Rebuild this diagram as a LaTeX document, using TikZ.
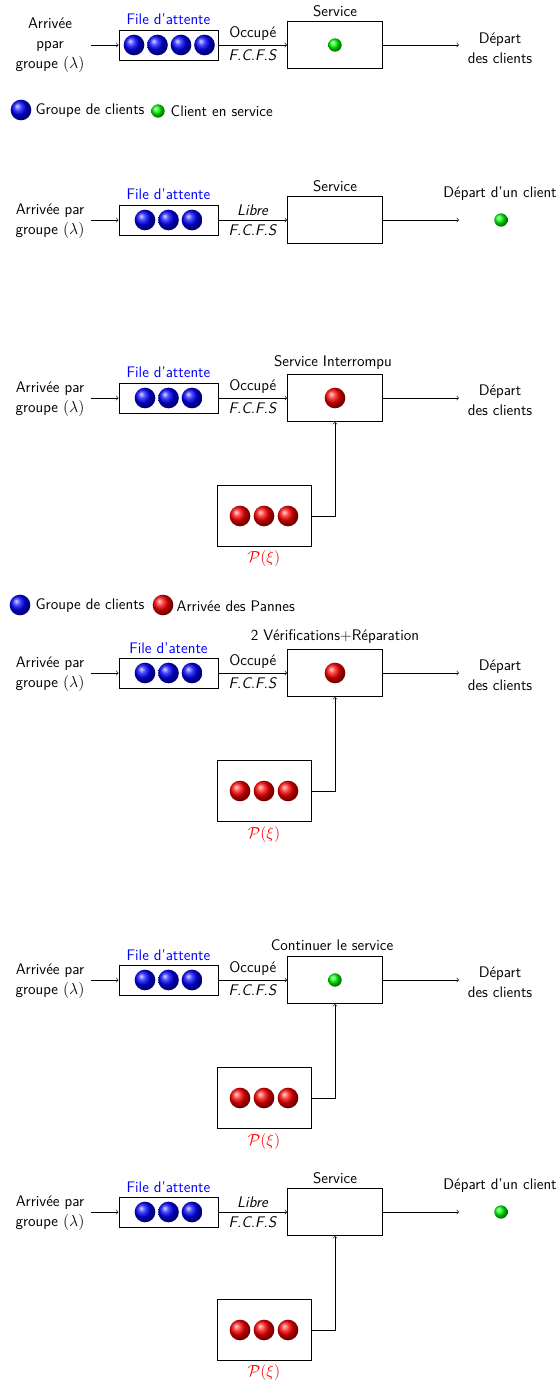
\documentclass[tikz,border=0pt]{standalone}

\begin{document}
\begin{tikzpicture}[x=0.75pt, y=-0.75pt,
  every node/.style={font=\sffamily\fontsize{11.5}{15}\selectfont},
  boite/.style={draw, semithick, inner sep=0pt},
  file/.style={boite, minimum width=74.25pt, minimum height=22.5pt},
  serveur/.style={boite, minimum width=71.25pt, minimum height=35.25pt},
  reserve/.style={boite, minimum width=70.5pt, minimum height=45.75pt},
  client/.style={circle, inner sep=0pt, minimum size=15.5pt, ball color=blue},
  panne/.style={circle, inner sep=0pt, minimum size=15.5pt, ball color=red},
  enservice/.style={circle, inner sep=0pt, minimum size=10pt, ball color=green}]
  \useasboundingbox (0,0) rectangle (560,1385);

  % 1) serveur occupe, un client en service
  \node[align=center] (arr1) at (50,45) {Arrivée\\ppar\\groupe $(\lambda)$};
  \node[file] (q1) at (168.5,45) {};
  \foreach \i/\x in {1/134,2/157.5,3/181,4/204.5}
    \node[client] (c1\i) at (\x,45) {};
  \node[text=blue] (f1) at (168.5,19) {File d'attente};
  \node[serveur] (s1) at (335,45) {};
  \node (t1) at (335,11) {Service};
  \node[enservice] (e1) at (335,45) {};
  \coordinate (in1) at (91,45);
  \coordinate (out1) at (459,45);
  \draw[->] (in1) -- (q1);
  \draw[->] (q1) -- node[above] {Occupé} node[below] {\textit{F.C.F.S}} (s1);
  \draw[->] (s1) -- (out1);
  \node[align=center] (dep1) at (500,48) {Départ\\des clients};

  % legende
  \node[client] (lg1) at (21,110) {};
  \node[anchor=west] (lt1) at (31,111) {Groupe de clients};
  \node[enservice] (lg2) at (158,111) {};
  \node[anchor=west] (lt2) at (166,111) {Client en service};

  % 2) serveur libre, depart d'un client
  \node[align=center] (arr2) at (50,221) {Arrivée par\\groupe $(\lambda)$};
  \node[file] (q2) at (168.5,220) {};
  \foreach \i/\x in {1/145,2/168.5,3/192}
    \node[client] (c2\i) at (\x,220) {};
  \node[text=blue] (f2) at (168.5,194) {File d'attente};
  \node[serveur] (s2) at (335,220) {};
  \node (t2) at (335,186) {Service};
  \coordinate (in2) at (91,220);
  \coordinate (out2) at (459,220);
  \draw[->] (in2) -- (q2);
  \draw[->] (q2) -- node[above] {\textit{Libre}} node[below] {\textit{F.C.F.S}} (s2);
  \draw[->] (s2) -- (out2);
  \node (dep2) at (500,194) {Départ d'un client};
  \node[enservice] (e2) at (501,220) {};

  % 3) arrivee d'une panne, service interrompu
  \node[align=center] (arr3) at (50,399) {Arrivée par\\groupe $(\lambda)$};
  \node[file] (q3) at (168.5,398) {};
  \foreach \i/\x in {1/145,2/168.5,3/192}
    \node[client] (c3\i) at (\x,398) {};
  \node[text=blue] (f3) at (168.5,372) {File d'attente};
  \node[serveur] (s3) at (335,398) {};
  \node (t3) at (333,362) {Service Interrompu};
  \node[panne] (e3) at (335,398) {};
  \coordinate (in3) at (91,398);
  \coordinate (out3) at (459,398);
  \draw[->] (in3) -- (q3);
  \draw[->] (q3) -- node[above] {Occupé} node[below] {\textit{F.C.F.S}} (s3);
  \draw[->] (s3) -- (out3);
  \node[align=center] (dep3) at (500,400) {Départ\\des clients};
  \node[reserve] (p3) at (264,516) {};
  \foreach \i/\x in {1/240,2/264,3/288}
    \node[panne] (r3\i) at (\x,516) {};
  \node[text=red] (x3) at (264,558) {$\mathcal{P}(\xi)$};
  \draw[->] (p3) -| (s3);

  % legende
  \node[client] (lg3) at (20,605) {};
  \node[anchor=west] (lt3) at (31,606) {Groupe de clients};
  \node[panne] (lg4) at (163,605) {};
  \node[anchor=west] (lt4) at (172,606) {Arrivée des Pannes};

  % 4) verifications et reparation
  \node[align=center] (arr4) at (50,674) {Arrivée par\\groupe $(\lambda)$};
  \node[file] (q4) at (168.5,673) {};
  \foreach \i/\x in {1/145,2/168.5,3/192}
    \node[client] (c4\i) at (\x,673) {};
  \node[text=blue] (f4) at (168.5,648) {File d'atente};
  \node[serveur] (s4) at (335,673) {};
  \node (t4) at (335,637) {2 Vérifications+Réparation};
  \node[panne] (e4) at (335,673) {};
  \coordinate (in4) at (91,673);
  \coordinate (out4) at (459,673);
  \draw[->] (in4) -- (q4);
  \draw[->] (q4) -- node[above] {Occupé} node[below] {\textit{F.C.F.S}} (s4);
  \draw[->] (s4) -- (out4);
  \node[align=center] (dep4) at (500,675) {Départ\\des clients};
  \node[reserve] (p4) at (264,791) {};
  \foreach \i/\x in {1/240,2/264,3/288}
    \node[panne] (r4\i) at (\x,791) {};
  \node[text=red] (x4) at (264,834) {$\mathcal{P}(\xi)$};
  \draw[->] (p4) -| (s4);

  % 5) reprise du service
  \node[align=center] (arr5) at (50,981) {Arrivée par\\groupe $(\lambda)$};
  \node[file] (q5) at (168.5,980) {};
  \foreach \i/\x in {1/145,2/168.5,3/192}
    \node[client] (c5\i) at (\x,980) {};
  \node[text=blue] (f5) at (168.5,955) {File d'attente};
  \node[serveur] (s5) at (335,980) {};
  \node (t5) at (332,945) {Continuer le service};
  \node[enservice] (e5) at (335,980) {};
  \coordinate (in5) at (91,980);
  \coordinate (out5) at (459,980);
  \draw[->] (in5) -- (q5);
  \draw[->] (q5) -- node[above] {Occupé} node[below] {\textit{F.C.F.S}} (s5);
  \draw[->] (s5) -- (out5);
  \node[align=center] (dep5) at (500,982) {Départ\\des clients};
  \node[reserve] (p5) at (264,1098) {};
  \foreach \i/\x in {1/240,2/264,3/288}
    \node[panne] (r5\i) at (\x,1098) {};
  \node[text=red] (x5) at (264,1141) {$\mathcal{P}(\xi)$};
  \draw[->] (p5) -| (s5);

  % 6) serveur libre apres reparation
  \node[align=center] (arr6) at (50,1213) {Arrivée par\\groupe $(\lambda)$};
  \node[file] (q6) at (168.5,1212) {};
  \foreach \i/\x in {1/145,2/168.5,3/192}
    \node[client] (c6\i) at (\x,1212) {};
  \node[text=blue] (f6) at (168.5,1187) {File d'attente};
  \node[serveur] (s6) at (335,1212) {};
  \node (t6) at (335,1178) {Service};
  \coordinate (in6) at (91,1212);
  \coordinate (out6) at (459,1212);
  \draw[->] (in6) -- (q6);
  \draw[->] (q6) -- node[above] {\textit{Libre}} node[below] {\textit{F.C.F.S}} (s6);
  \draw[->] (s6) -- (out6);
  \node (dep6) at (500,1186) {Départ d'un client};
  \node[enservice] (e6) at (501,1212) {};
  \node[reserve] (p6) at (264,1330) {};
  \foreach \i/\x in {1/240,2/264,3/288}
    \node[panne] (r6\i) at (\x,1330) {};
  \node[text=red] (x6) at (264,1372) {$\mathcal{P}(\xi)$};
  \draw[->] (p6) -| (s6);
\end{tikzpicture}
\end{document}
